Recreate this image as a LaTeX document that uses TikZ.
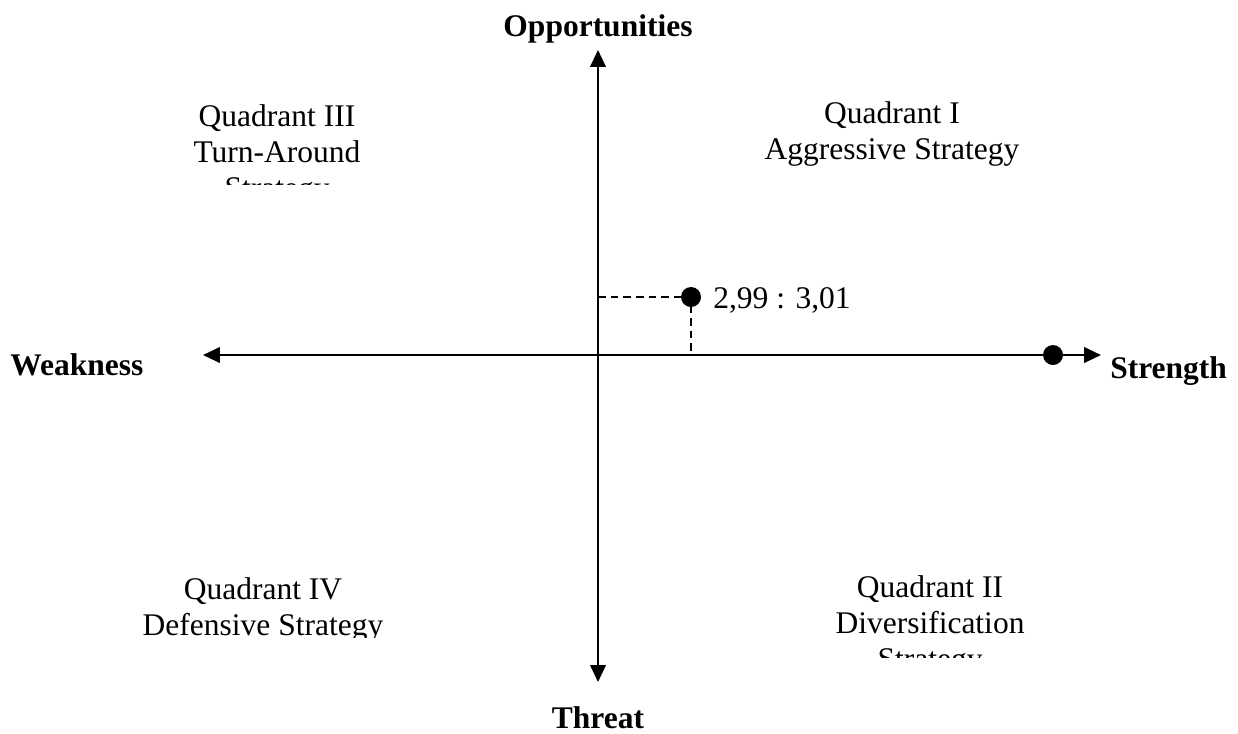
\documentclass[tikz,border=0pt]{standalone}
\usepackage{fontspec}
\setmainfont{Liberation Serif}
\tikzset{
  axis/.style={line width=1.6pt, {Triangle[length=12pt,width=11pt]}-{Triangle[length=12pt,width=11pt]}},
  guide/.style={line width=1pt, dash pattern=on 5.5pt off 3.5pt},
  quad/.style={align=center, inner sep=0pt, font=\fontsize{22.4}{25.6}\selectfont},
  axislabel/.style={inner sep=0pt, font=\fontsize{22.4}{25.6}\selectfont\bfseries},
}
\usetikzlibrary{arrows.meta}
\begin{document}
\begin{tikzpicture}[x=0.025cm, y=-0.025cm]
                \useasboundingbox (0,0) rectangle (1238,733);
                %\draw[help lines] (0,0) grid[step=50] (1238,733);
                \coordinate (O) at (598,355);
                \coordinate (top) at (598,50);
                \coordinate (bottom) at (598,682);
                \coordinate (left) at (203,355);
                \coordinate (right) at (1101,355);
                \coordinate (P) at (691,297);
                \coordinate (S) at (1053,355);
                \coordinate (Py) at (O |- P);
                \coordinate (Px) at (P |- O);
                \draw[axis] (left) -- (right);
                \draw[axis] (bottom) -- (top);
                \draw[guide] (Py) -- (P) -- (Px);
                \fill (P) circle (10);
                \fill (S) circle (10);
                \node[quad, anchor=base west] (pval) at (713,308) {2,99 : 3,01};
                \node[axislabel, anchor=base] (opp) at (598,36) {Opportunities};
                \node[axislabel, anchor=base] (thr) at (598,728) {Threat};
                \node[axislabel, anchor=base west] (weak) at (10,375) {Weakness};
                \node[axislabel, anchor=base west] (str) at (1110,378) {Strength};
                % base anchor sits on the last line
                \node[quad, anchor=base] (q1) at (892,159) {Quadrant I\\Aggressive Strategy};
                \begin{scope}
                \clip (0,0) rectangle (598,184);
                \node[quad, anchor=base] (q3) at (277,198) {Quadrant III\\Turn-Around\\Strategy};
                \end{scope}
                \begin{scope}
                \clip (598,355) rectangle (1238,657);
                \node[quad, anchor=base] (q2) at (930,669) {Quadrant II\\Diversification\\Strategy};
                \end{scope}
                \begin{scope}
                \clip (0,355) rectangle (598,637);
                \node[quad, anchor=base] (q4) at (263,635) {Quadrant IV\\Defensive Strategy};
                \end{scope}
            \end{tikzpicture}
\end{document}
